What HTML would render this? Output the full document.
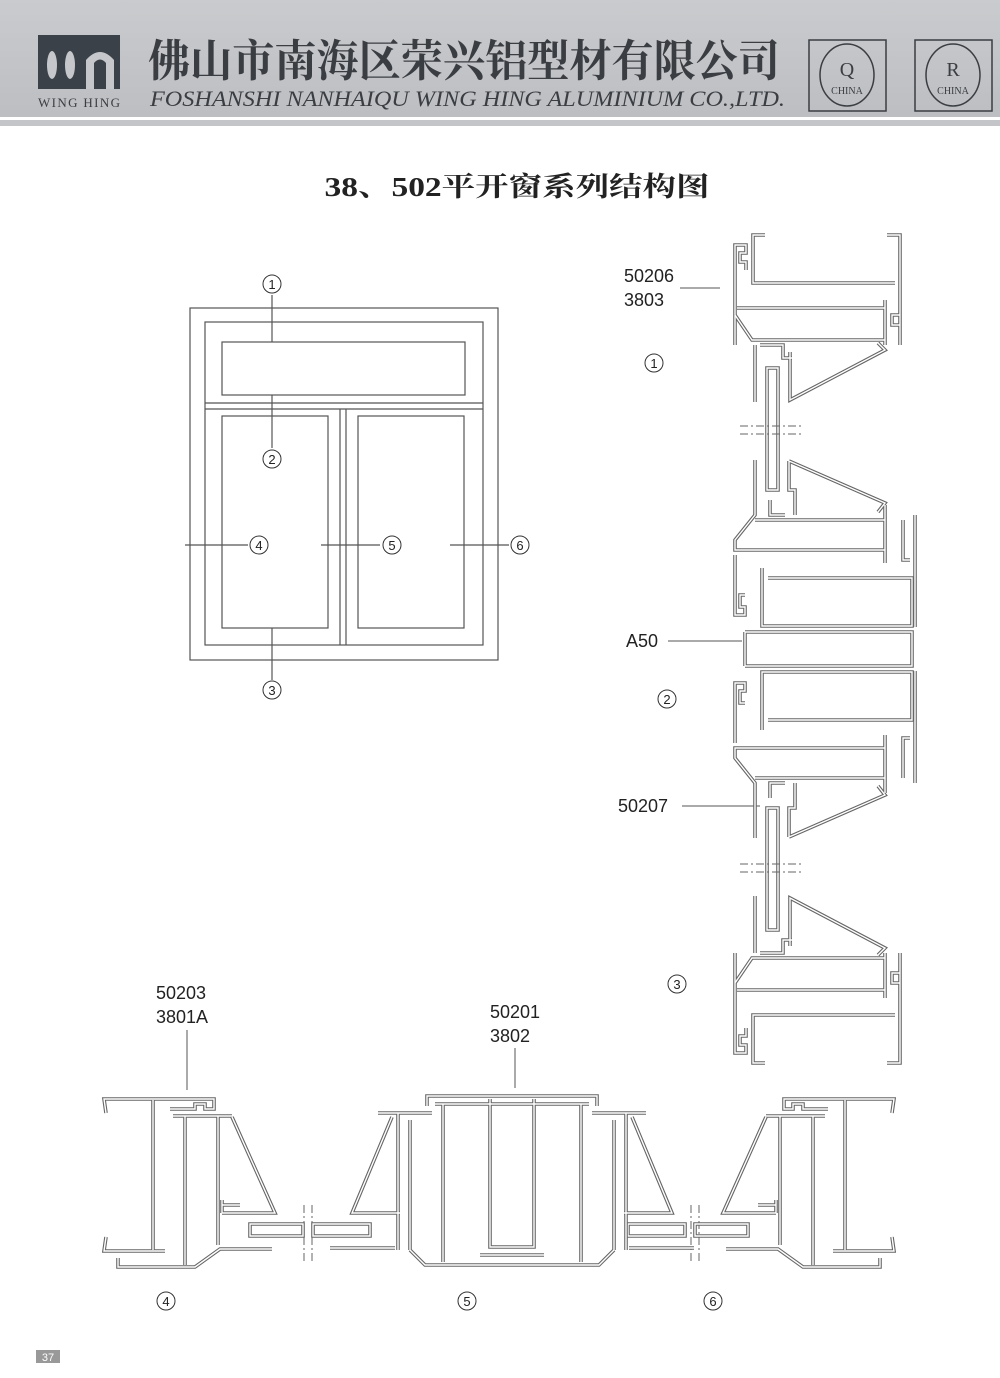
<!DOCTYPE html>
<html><head><meta charset="utf-8"><style>
body{margin:0;background:#fff;}
.pg{position:relative;width:1000px;height:1378px;overflow:hidden;background:#fff;font-family:"Liberation Sans",sans-serif;}
svg{position:absolute;left:0;top:0;}
</style></head><body><div class="pg">
<svg width="1000" height="1378" viewBox="0 0 1000 1378">
<defs>
<linearGradient id="hg" x1="0" y1="0" x2="0" y2="1"><stop offset="0" stop-color="#c9cbce"/><stop offset="1" stop-color="#bcbec2"/></linearGradient>
<g id="vtop" fill="none">
 <!-- top frame -->
 <path d="M765,235 L753,235 L753,283 L895,283 M887,235 L900,235 L900,345 M735,345 L735,245 L746,245 L746,253 L740,253 L740,262 L746,262 L746,270 M735,315 L752,340 L885,340 M737,308 L885,308 M885,300 L885,345 M900,325 L892,325 L892,315 L900,315"/>
 <path d="M755,345 L755,402 M760,345 L783,345 L783,358 L792,358 M790,352 L790,400 L885,350 L878,343"/>
 <path d="M767,368 L778,368 L778,490 L767,490 Z"/>
 <!-- sash at transom -->
 <path d="M789,461 L789,490 L795,490 L795,515 M789,461 L885,503 L878,512 M755,460 L755,515 L735,540 L735,550 L885,550 M755,520 L885,520 M885,505 L885,563 M770,500 L770,515 L785,515"/>
 <!-- transom frame -->
 <path d="M735,555 L735,615 L745,615 L745,607 L740,607 L740,595 L745,595 M762,568 L762,626 L912,626 L912,578 L768,578 M915,515 L915,627 M903,520 L903,560 L910,560"/>
 <path d="M745,632 L912,632 L912,649 M745,632 L745,649"/>
</g>
<g id="hout" fill="none">
 <path d="M106,1113 L104,1099 L214,1099 L214,1109 L205,1109 L205,1104 L195,1104 L195,1109 L170,1109 M153,1100 L153,1250 M106,1237 L104,1251 L165,1251 M118,1258 L118,1267 L195,1267 L220,1249 L272,1249"/>
 <path d="M173,1116 L232,1116 M185,1116 L185,1265 M218,1116 L218,1245 M222,1213 L275,1213 L232,1117 M222,1200 L222,1213 M240,1205 L222,1205"/>
 <path d="M250,1224 L303,1224 L303,1236 L250,1236 Z M313,1224 L370,1224 L370,1236 L313,1236 Z"/>
</g>
<g id="hmul" fill="none">
 <path d="M392,1117 L352,1213 L400,1213 M378,1113 L432,1113 M398,1113 L398,1250 M410,1120 L410,1250 M330,1248 L395,1248 M410,1250 L425,1265 L512,1265"/>
 <path d="M427,1106 L427,1096 L512,1096 M435,1104 L512,1104 M443,1104 L443,1262 M490,1099 L490,1247 L512,1247 M480,1255 L512,1255"/>
</g>
</defs>
<rect x="0" y="0" width="1000" height="117" fill="url(#hg)"/>
<rect x="0" y="120" width="1000" height="6" fill="#c3c5c8"/>
<!-- logo -->
<rect x="38" y="35" width="82" height="54" fill="#3b4148"/>
<ellipse cx="52" cy="65" rx="5" ry="14" fill="#c5c7ca"/>
<ellipse cx="70" cy="65" rx="5" ry="14" fill="#c5c7ca"/>
<path d="M86,89 L86,60 Q100,44 114,60 L114,89 L106,89 L106,63 Q100,56 94,63 L94,89 Z" fill="#c5c7ca"/>
<rect x="38" y="35" width="82" height="10" fill="#3b4148"/>
<text x="79" y="107" font-family="Liberation Serif,serif" font-size="13" text-anchor="middle" fill="#3a3d42" textLength="82">WING HING</text>
<text x="148" y="76" font-family="'Liberation Serif','Noto Serif CJK SC',serif" font-size="44" font-weight="bold" fill="#3a3d42" textLength="632" lengthAdjust="spacingAndGlyphs">佛山市南海区荣兴铝型材有限公司</text>
<text x="150" y="106" font-family="Liberation Serif,serif" font-style="italic" font-size="22" fill="#3a3d42" textLength="635" lengthAdjust="spacingAndGlyphs">FOSHANSHI NANHAIQU WING HING ALUMINIUM CO.,LTD.</text>
<g fill="none" stroke="#3a3d42" stroke-width="1.5">
<rect x="809" y="40" width="77" height="71"/><ellipse cx="847" cy="75" rx="27" ry="31"/>
<rect x="915" y="40" width="77" height="71"/><ellipse cx="953" cy="75" rx="27" ry="31"/>
</g>
<g font-family="Liberation Serif,serif" fill="#3a3d42" text-anchor="middle">
<text x="847" y="76" font-size="20">Q</text><text x="847" y="94" font-size="10">CHINA</text>
<text x="953" y="76" font-size="20">R</text><text x="953" y="94" font-size="10">CHINA</text>
</g>
<text x="517" y="196" font-family="'Liberation Serif','Noto Serif CJK SC',serif" font-size="27" font-weight="bold" text-anchor="middle" fill="#222" textLength="385" lengthAdjust="spacingAndGlyphs">38、502平开窗系列结构图</text>
<!-- window overview -->
<g fill="none" stroke="#555" stroke-width="1.2">
<rect x="190" y="308" width="308" height="352"/>
<rect x="205" y="322" width="278" height="323"/>
<rect x="222" y="342" width="243" height="53"/>
<line x1="205" y1="403" x2="483" y2="403"/><line x1="205" y1="409" x2="483" y2="409"/>
<line x1="340" y1="409" x2="340" y2="645"/><line x1="346" y1="409" x2="346" y2="645"/>
<rect x="222" y="416" width="106" height="212"/>
<rect x="358" y="416" width="106" height="212"/>
<line x1="272" y1="295" x2="272" y2="342"/><line x1="272" y1="395" x2="272" y2="448"/>
<line x1="272" y1="628" x2="272" y2="680"/>
<line x1="185" y1="545" x2="248" y2="545"/><line x1="321" y1="545" x2="380" y2="545"/><line x1="450" y1="545" x2="509" y2="545"/>
</g>
<g fill="none" stroke="#333" stroke-width="1">
<circle cx="272" cy="284" r="9"/><circle cx="272" cy="459" r="9"/><circle cx="272" cy="690" r="9"/>
<circle cx="259" cy="545" r="9"/><circle cx="392" cy="545" r="9"/><circle cx="520" cy="545" r="9"/>
<circle cx="654" cy="363" r="9"/><circle cx="667" cy="699" r="9"/><circle cx="677" cy="984" r="9"/>
<circle cx="166" cy="1301" r="9"/><circle cx="467" cy="1301" r="9"/><circle cx="713" cy="1301" r="9"/>
</g>
<g font-family="Liberation Sans,sans-serif" font-size="13" fill="#222" text-anchor="middle">
<text x="272" y="289">1</text><text x="272" y="464">2</text><text x="272" y="695">3</text>
<text x="259" y="550">4</text><text x="392" y="550">5</text><text x="520" y="550">6</text>
<text x="654" y="368">1</text><text x="667" y="704">2</text><text x="677" y="989">3</text>
<text x="166" y="1306">4</text><text x="467" y="1306">5</text><text x="713" y="1306">6</text>
</g>
<!-- labels -->
<g font-family="Liberation Sans,sans-serif" font-size="18" fill="#222">
<text x="624" y="282">50206</text><text x="624" y="306">3803</text>
<text x="626" y="647">A50</text><text x="618" y="812">50207</text>
<text x="156" y="999">50203</text><text x="156" y="1023">3801A</text>
<text x="490" y="1018">50201</text><text x="490" y="1042">3802</text>
</g>
<g stroke="#555" stroke-width="1">
<line x1="680" y1="288" x2="720" y2="288"/><line x1="668" y1="641" x2="742" y2="641"/>
<line x1="682" y1="806" x2="760" y2="806"/><line x1="187" y1="1030" x2="187" y2="1090"/>
<line x1="515" y1="1048" x2="515" y2="1088"/>
</g>
<!-- vertical section -->
<use href="#vtop" stroke="#666" stroke-width="3.6"/><use href="#vtop" stroke="#fff" stroke-width="1.4"/>
<g transform="translate(0,1298) scale(1,-1)"><use href="#vtop" stroke="#666" stroke-width="3.6"/><use href="#vtop" stroke="#fff" stroke-width="1.4"/></g>
<g stroke="#666" stroke-width="1" stroke-dasharray="8,3,2,3">
<line x1="740" y1="426" x2="802" y2="426"/><line x1="740" y1="434" x2="802" y2="434"/>
<line x1="740" y1="864" x2="802" y2="864"/><line x1="740" y1="872" x2="802" y2="872"/>
<line x1="304" y1="1205" x2="304" y2="1262"/><line x1="312" y1="1205" x2="312" y2="1262"/>
<line x1="691" y1="1205" x2="691" y2="1262"/><line x1="699" y1="1205" x2="699" y2="1262"/>
</g>
<!-- horizontal section -->
<use href="#hout" stroke="#666" stroke-width="3.6"/><use href="#hout" stroke="#fff" stroke-width="1.4"/>
<g transform="translate(998,0) scale(-1,1)"><use href="#hout" stroke="#666" stroke-width="3.6"/><use href="#hout" stroke="#fff" stroke-width="1.4"/></g>
<use href="#hmul" stroke="#666" stroke-width="3.6"/><use href="#hmul" stroke="#fff" stroke-width="1.4"/>
<g transform="translate(1024,0) scale(-1,1)"><use href="#hmul" stroke="#666" stroke-width="3.6"/><use href="#hmul" stroke="#fff" stroke-width="1.4"/></g>
<rect x="36" y="1350" width="24" height="13" fill="#999"/>
<text x="48" y="1361" font-size="11" text-anchor="middle" fill="#fff">37</text>
</svg>
</div></body></html>
